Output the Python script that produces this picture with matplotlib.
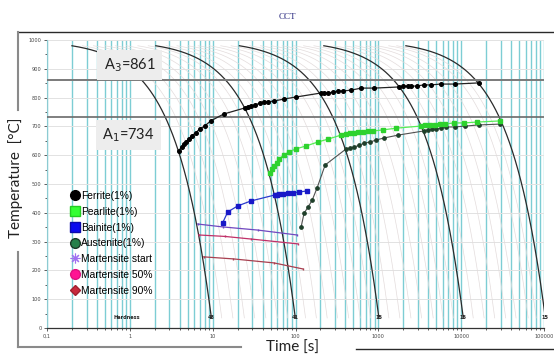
import matplotlib.pyplot as plt
import numpy as np
from matplotlib.lines import Line2D
from matplotlib.ticker import FixedLocator, LogLocator, NullFormatter

# constant rate cooling curves [degC/s] and hardness at their ends
cool_rates = [100, 9.7, 0.95, 0.091, 0.0093]
hardness = ['43', '41', '15', '15', '15']
faint_rates = [75, 55, 40, 30, 22, 16, 12,
               7.3, 5.4, 4.0, 3.0, 2.2, 1.6, 1.2,
               0.72, 0.53, 0.39, 0.29, 0.21, 0.16, 0.12,
               0.069, 0.051, 0.038, 0.028, 0.021, 0.015, 0.012]

A3 = 861
A1 = 734

# transformation start lines (time [s], temperature [C])
ferrite_t = [3.87, 4.21, 4.45, 4.71, 5.12, 5.56, 6.22, 6.95, 8.0, 9.45, 13.6,
             24.4, 26.6, 28.9, 32.3, 37.2, 41.5, 46.4, 54.8, 72.6, 101,
             204, 221, 248, 285, 328, 377, 471, 622, 895,
             1800, 2010, 2250, 2510, 2890, 3510, 4270, 5650, 8340, 16300]
ferrite_T = [615, 628, 639, 646, 656, 667, 677, 691, 701, 719, 743,
             764, 767, 771, 774, 781, 785, 785, 788, 795, 802,
             816, 816, 816, 819, 823, 823, 826, 833, 833,
             837, 840, 840, 840, 840, 844, 844, 847, 847, 851]

pearlite_t = [49.1, 51.9, 54.8, 59.7, 63.1, 72.6, 83.4, 101, 134, 187, 248,
              356, 409, 458, 512, 573, 658, 757, 869, 1150, 1650,
              3230, 3610, 4150, 4770, 5480, 6310, 8110, 10700, 15400, 29300]
pearlite_T = [538, 552, 562, 573, 587, 601, 611, 622, 632, 646, 656,
              670, 674, 677, 677, 681, 681, 684, 684, 688, 694,
              701, 705, 705, 705, 708, 708, 712, 712, 715, 719]

bainite_t = [13.2, 15.2, 20.1, 28.9, 56.5, 59.7, 63.1, 70.5, 81.1, 93.3, 110, 138]
bainite_T = [365, 403, 424, 441, 462, 462, 465, 465, 469, 469, 472, 476]

austenite_t = [117, 127, 142, 159, 182, 228, 409, 458, 512, 589, 677, 800, 946,
               1180, 1750, 3510, 3930, 4390, 4910, 5650, 6490, 8340, 11000,
               16300, 29300]
austenite_T = [351, 399, 420, 444, 486, 566, 622, 625, 628, 635, 642, 646, 653,
               660, 670, 684, 688, 691, 691, 694, 698, 698, 701, 705, 708]

ms_t = [6.6, 13.2, 35.1, 104]
ms_T = [361, 351, 340, 323]
m50_t = [6.8, 14.0, 28.9, 107]
m50_T = [323, 318, 309, 292]
m90_t = [7.8, 17.6, 55, 123]
m90_T = [247, 240, 226, 205]

x_ticks = [0.1, 1, 10, 100, 1000, 10000, 100000]
x_labels = ['0,1', '1', '10', '100', '1000', '10000', '100000']
y_ticks = list(range(0, 1001, 100))

W, H = 554, 356
fig = plt.figure(figsize=(W / 100, H / 100), dpi=100)
ax = fig.add_axes([47 / W, 28 / H, 497 / W, 288 / H])

ax.set_xscale('log')
ax.set_xlim(0.1, 100000)
ax.set_ylim(0, 1000)

# grid: cyan verticals at every log tick, light grey horizontals
ax.xaxis.set_major_locator(FixedLocator(x_ticks))
ax.xaxis.set_minor_locator(LogLocator(base=10, subs=np.arange(2, 10), numticks=100))
ax.xaxis.set_minor_formatter(NullFormatter())
ax.set_xticklabels(x_labels)
ax.set_yticks(y_ticks)
ax.set_yticks(range(50, 1000, 100), minor=True)
ax.grid(True, axis='x', which='both', color='#7dcdd4', lw=1.0, zorder=0)
ax.grid(True, axis='y', which='major', color='#e2e2e2', lw=0.7, zorder=0)
ax.set_axisbelow(True)
ax.tick_params(axis='both', which='both', labelsize=3.6, colors='#444',
               length=2.5, width=0.6, pad=1.5)
ax.tick_params(axis='x', which='minor', length=1.5)
ax.tick_params(axis='y', which='minor', length=1.5)
for s in ['top', 'right']:
    ax.spines[s].set_visible(False)
ax.spines['left'].set_color('#8ccbd2')
ax.spines['bottom'].set_color('#333333')
ax.spines['bottom'].set_linewidth(0.9)

# faint cooling curves
for r in faint_rates:
    t = np.logspace(np.log10(20 / r), np.log10(965 / r), 200)
    ax.plot(t, 1000 - r * t, color='#e3dcdc', lw=0.5, zorder=1)

# main cooling curves
for r, hv in zip(cool_rates, hardness):
    t = np.logspace(np.log10(20 / r), np.log10(965 / r), 200)
    ax.plot(t, 1000 - r * t, color='#2b2b2b', lw=0.9, zorder=2)
    ax.text(965 / r, 35, hv, fontsize=3.6, fontweight='bold', color='#222',
            ha='center', va='center', zorder=3)
ax.text(0.93, 35, 'Hardness', fontsize=3.6, fontweight='bold', color='#222',
        ha='center', va='center', zorder=3)

# A3 / A1
ax.axhline(A3, color='#7a7a7a', lw=1.4, zorder=3)
ax.axhline(A1, color='#6a6a6a', lw=1.2, zorder=3)
box = dict(boxstyle='square,pad=0.45', facecolor='#ededed', edgecolor='none')
ax.text(1.0, 913, 'A$_3$=%d' % A3, fontsize=10.5, family='Lato', color='#222',
        ha='center', va='center', bbox=box, zorder=6)
ax.text(0.96, 670, 'A$_1$=%d' % A1, fontsize=10.5, family='Lato', color='#222',
        ha='center', va='center', bbox=box, zorder=6)

# transformation lines
ax.plot(ms_t, ms_T, color='#7048c0', lw=0.9, marker='|', ms=2, zorder=4)
ax.plot(m50_t, m50_T, color='#c03068', lw=0.9, marker='|', ms=2, zorder=4)
ax.plot(m90_t, m90_T, color='#a84050', lw=0.9, marker='|', ms=2, zorder=4)
ax.plot(bainite_t, bainite_T, color='#2a3acc', lw=0.9, marker='s', ms=2.6,
        mfc='#1818c8', mec='#1818c8', zorder=5)
ax.plot(austenite_t, austenite_T, color='#505050', lw=0.8, marker='o', ms=2.4,
        mfc='#1f3f2a', mec='#1f3f2a', zorder=5)
ax.plot(pearlite_t, pearlite_T, color='#55ee55', lw=0.9, marker='s', ms=2.6,
        mfc='#2ed22e', mec='#2ed22e', zorder=5)
ax.plot(ferrite_t, ferrite_T, color='#222222', lw=0.9, marker='o', ms=2.6,
        mfc='black', mec='black', zorder=5)

# legend
handles = [
    Line2D([], [], ls='', marker='o', ms=7, mfc='black', mec='black'),
    Line2D([], [], ls='', marker='s', ms=7, mfc='#33ff33', mec='#22cc22'),
    Line2D([], [], ls='', marker='s', ms=7, mfc='#0a0aee', mec='#0a0aaa'),
    Line2D([], [], ls='', marker='o', ms=7, mfc='#24804a', mec='#1a3a28'),
    Line2D([], [], ls='', marker=(8, 2, 0), ms=7, mec='#a070f0', mew=0.8),
    Line2D([], [], ls='', marker='o', ms=7, mfc='#ff1493', mec='#e01080'),
    Line2D([], [], ls='', marker='D', ms=5, mfc='#c8283c', mec='#a02030'),
]
labels = ['Ferrite(1%)', 'Pearlite(1%)', 'Bainite(1%)', 'Austenite(1%)',
          'Martensite start', 'Martensite 50%', 'Martensite 90%']
ax.legend(handles, labels, loc='upper left', bbox_to_anchor=(71 / W, 1 - 191 / H),
          bbox_transform=fig.transFigure, frameon=False,
          prop={'family': 'Liberation Sans', 'size': 7.4},
          handlelength=0.8, handletextpad=0.2, labelspacing=0.56,
          borderpad=0, borderaxespad=0)

# axis titles and outer frame
fig.text(287 / W, 1 - 17 / H, 'CCT', fontsize=6.5, family='Liberation Serif',
         color='#20207a', ha='center', va='center')
fig.text(16 / W, 1 - 178 / H, 'Temperature  [°C]', fontsize=11, family='Lato',
         rotation=90, ha='center', va='center', color='#222')
fig.text(292 / W, 1 - 348 / H, 'Time [s]', fontsize=11, family='Lato',
         ha='center', va='center', color='#222')

def fline(x0, y0, x1, y1, color, lw):
    fig.add_artist(Line2D([x0 / W, x1 / W], [1 - y0 / H, 1 - y1 / H],
                          color=color, lw=lw))

fline(18, 32, 554, 32, '#2a2a2a', 1.0)
fline(18, 32, 18, 110, '#8a8a8a', 1.5)
fline(18, 252, 18, 347, '#8a8a8a', 1.5)
fline(18, 347, 241, 347, '#8a8a8a', 1.5)
fline(356, 349, 554, 349, '#2a2a2a', 1.0)

fig.savefig('out.png', dpi=100)
